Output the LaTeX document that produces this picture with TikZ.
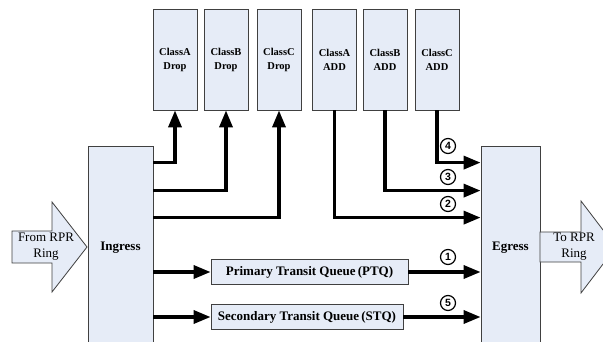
\documentclass[tikz,border=0pt]{standalone}
\usepackage{fontspec}
\setmainfont{Liberation Serif}
\newfontfamily\numfont{Liberation Sans}
\usepackage{tikz}
\usetikzlibrary{arrows.meta}
\definecolor{boxfill}{RGB}{230,236,247}
\definecolor{boxline}{RGB}{64,64,64}
\tikzstyle{block}=[draw=boxline,fill=boxfill,line width=0.8pt,inner sep=0pt]
\tikzstyle{classbox}=[block,minimum width=44pt,minimum height=101pt,align=center,font=\bfseries\fontsize{10.5}{14}\selectfont]
\tikzstyle{queue}=[block,minimum height=25pt,font=\bfseries\fontsize{13}{15}\selectfont]
\tikzstyle{port}=[block,minimum height=204pt,font=\bfseries\fontsize{13}{15}\selectfont]
\tikzstyle{wire}=[draw,line width=3.4pt,line join=miter,-{Triangle[length=17pt,width=13pt]}]
\tikzstyle{num}=[circle,draw,line width=1.2pt,minimum size=15pt,inner sep=0pt,font=\numfont\bfseries\fontsize{10.5}{10.5}\selectfont]

\begin{document}
\begin{tikzpicture}[x=1pt,y=-1pt]
      \useasboundingbox (0,0) rectangle (603,342);
      % ring interfaces
      \node[port,minimum width=65pt] (ingress) at (120.5,248) {Ingress};
      \node[port,minimum width=59pt] (egress) at (510.5,248) {Egress};
      \draw[boxline,fill=boxfill,line width=0.8pt] (12,231) -- (52,231) -- (52,202) -- (87,247)
            -- (52,292) -- (52,263) -- (12,263) -- cycle;
      \draw[boxline,fill=boxfill,line width=0.8pt] (540,232) -- (581,232) -- (581,201) -- (616,247)
            -- (581,293) -- (581,262) -- (540,262) -- cycle;
      \node[align=center,font=\fontsize{13}{16}\selectfont] (from) at (46,247) {From RPR\\Ring};
      \node[align=center,font=\fontsize{13}{16}\selectfont] (to) at (574,247) {To RPR\\Ring};
      % class buffers
      \node[classbox] (dropA) at (175,59.5) {ClassA\\Drop};
      \node[classbox] (dropB) at (226,59.5) {ClassB\\Drop};
      \node[classbox] (dropC) at (279,59.5) {ClassC\\Drop};
      \node[classbox] (addA) at (334.5,59.5) {ClassA\\ADD};
      \node[classbox] (addB) at (385,59.5) {ClassB\\ADD};
      \node[classbox] (addC) at (437,59.5) {ClassC\\ADD};
      % transit queues
      \node[queue,minimum width=197pt] (ptq) at (309.5,272) {Primary Transit Queue\,(PTQ)};
      \node[queue,minimum width=192pt] (stq) at (307,317) {Secondary Transit Queue\,(STQ)};
      % ingress side
      \draw[wire] ([yshift=-17pt]ingress.north east) -| (dropA.south);
      \draw[wire] ([yshift=-45pt]ingress.north east) -| (dropB.south);
      \draw[wire] ([yshift=-72pt]ingress.north east) -| (dropC.south);
      \draw[wire] (ingress.east |- ptq.west) -- (ptq.west);
      \draw[wire] (ingress.east |- stq.west) -- (stq.west);
      % egress side
      \draw[wire] (addC.south) |- ([yshift=-17pt]egress.north west);
      \draw[wire] (addB.south) |- ([yshift=-45pt]egress.north west);
      \draw[wire] (addA.south) |- ([yshift=-72pt]egress.north west);
      \draw[wire] (ptq.east) -- (egress.west |- ptq.east);
      \draw[wire] (stq.east) -- (egress.west |- stq.east);
      \node[num] (n4) at (448,146) {4};
      \node[num] (n3) at (448,177) {3};
      \node[num] (n2) at (448,204) {2};
      \node[num] (n1) at (448,257) {1};
      \node[num] (n5) at (448,303) {5};
\end{tikzpicture}
\end{document}
